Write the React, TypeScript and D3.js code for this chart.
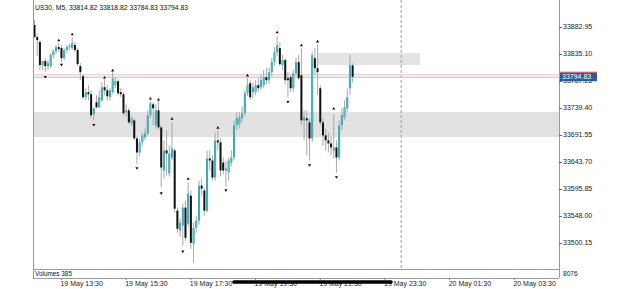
import React from 'react';
import * as d3 from 'd3';

// ---- Data (US30, M5, 5‑minute bars from 19 May 12:40) ----
const symbolTitle = 'US30, M5, 33814.82 33818.82 33784.83 33794.83';
const firstBar = '2023-05-19T12:40:00Z';
const lastTime = '2023-05-20T03:30:00Z';

const opens = [
  33886.5, 33865.2, 33856.3, 33815.4, 33822.5, 33813.6, 33813.6, 33833.2, 33840.3, 33847.4,
  33845.6, 33827.8, 33842.1, 33847.4, 33845.6, 33851.0, 33842.1, 33813.6, 33795.8, 33758.5,
  33767.4, 33763.8, 33728.2, 33749.6, 33740.7, 33753.1, 33776.2, 33770.9, 33758.5, 33767.4,
  33779.8, 33786.9, 33767.4, 33763.8, 33731.8, 33735.3, 33712.2, 33717.5, 33685.5, 33660.6,
  33678.4, 33687.3, 33694.4, 33726.4, 33746.0, 33708.7, 33735.3, 33705.1, 33628.6, 33664.2,
  33623.3, 33651.7, 33664.2, 33557.5, 33521.9, 33530.8, 33562.8, 33534.3, 33584.1, 33498.8,
  33527.2, 33539.7, 33601.9, 33593.0, 33557.5, 33650.0, 33646.4, 33616.2, 33682.0, 33678.4,
  33642.8, 33628.6, 33625.0, 33642.8, 33651.7, 33708.7, 33710.4, 33721.1, 33730.0, 33765.6,
  33783.4, 33767.4, 33767.4, 33779.8, 33776.2, 33779.8, 33794.0, 33788.7, 33802.9, 33820.7,
  33838.5, 33845.6, 33815.4, 33824.3, 33792.3, 33794.0, 33774.5, 33801.1, 33820.7, 33797.6,
  33717.5, 33721.1, 33714.0, 33685.5, 33827.8, 33810.0, 33774.5, 33714.0, 33690.9, 33682.0,
  33676.6, 33664.2, 33669.5, 33651.7, 33708.7, 33722.9, 33738.9, 33774.5, 33814.82,
];
const highs = [
  33895.4, 33870.5, 33859.8, 33824.3, 33827.8, 33824.3, 33836.7, 33843.8, 33851.0, 33854.5,
  33851.0, 33845.6, 33851.0, 33852.7, 33865.2, 33856.3, 33845.6, 33818.9, 33799.4, 33774.5,
  33779.8, 33770.9, 33740.7, 33762.0, 33770.9, 33785.1, 33790.5, 33779.8, 33774.5, 33802.9,
  33794.0, 33790.5, 33774.5, 33767.4, 33746.0, 33738.9, 33726.4, 33721.1, 33689.1, 33685.5,
  33696.2, 33703.3, 33735.3, 33751.3, 33749.6, 33746.0, 33751.3, 33708.7, 33682.0, 33699.8,
  33673.1, 33714.0, 33667.7, 33562.8, 33543.2, 33569.9, 33575.2, 33607.3, 33593.0, 33536.1,
  33548.6, 33610.8, 33614.4, 33598.4, 33664.2, 33664.2, 33655.3, 33696.2, 33699.8, 33685.5,
  33651.7, 33646.4, 33651.7, 33664.2, 33717.5, 33731.8, 33731.8, 33742.5, 33770.9, 33792.3,
  33788.7, 33785.1, 33788.7, 33792.3, 33799.4, 33806.5, 33810.0, 33810.0, 33827.8, 33847.4,
  33867.0, 33856.3, 33833.2, 33827.8, 33802.9, 33799.4, 33806.5, 33827.8, 33833.2, 33845.6,
  33735.3, 33735.3, 33721.1, 33838.5, 33845.6, 33852.7, 33779.8, 33721.1, 33703.3, 33696.2,
  33689.1, 33728.2, 33682.0, 33717.5, 33738.9, 33753.1, 33774.5, 33833.2, 33818.82,
];
const lows = [
  33863.4, 33831.4, 33806.5, 33806.5, 33802.9, 33806.5, 33810.0, 33827.8, 33834.9, 33838.5,
  33820.7, 33824.3, 33836.7, 33842.1, 33842.1, 33838.5, 33813.6, 33788.7, 33754.9, 33753.1,
  33753.1, 33721.1, 33717.5, 33738.9, 33738.9, 33749.6, 33762.0, 33753.1, 33753.1, 33763.8,
  33774.5, 33762.0, 33758.5, 33726.4, 33724.7, 33710.4, 33706.9, 33682.0, 33641.1, 33653.5,
  33673.1, 33682.0, 33690.9, 33721.1, 33708.7, 33703.3, 33699.8, 33598.4, 33614.4, 33619.7,
  33617.9, 33646.4, 33553.9, 33518.3, 33511.2, 33495.2, 33504.1, 33529.0, 33489.9, 33465.0,
  33518.3, 33532.5, 33584.1, 33548.6, 33553.9, 33628.6, 33610.8, 33610.8, 33664.2, 33617.9,
  33621.5, 33600.1, 33610.8, 33635.7, 33646.4, 33699.8, 33703.3, 33714.0, 33724.7, 33760.2,
  33753.1, 33756.7, 33762.0, 33767.4, 33770.9, 33774.5, 33781.6, 33781.6, 33795.8, 33813.6,
  33831.4, 33813.6, 33806.5, 33781.6, 33758.5, 33767.4, 33767.4, 33795.8, 33788.7, 33710.4,
  33682.0, 33655.3, 33646.4, 33678.4, 33797.6, 33762.0, 33708.7, 33673.1, 33664.2, 33660.6,
  33655.3, 33650.0, 33625.0, 33646.4, 33699.8, 33717.5, 33731.8, 33762.0, 33784.83,
];
const closes = [
  33865.2, 33859.8, 33815.4, 33822.5, 33813.6, 33818.9, 33833.2, 33840.3, 33847.4, 33843.8,
  33827.8, 33842.1, 33847.4, 33849.2, 33854.5, 33842.1, 33817.2, 33802.9, 33758.5, 33767.4,
  33763.8, 33726.4, 33738.9, 33740.7, 33758.5, 33776.2, 33770.9, 33760.2, 33770.9, 33792.3,
  33786.9, 33765.6, 33763.8, 33730.0, 33735.3, 33714.0, 33721.1, 33685.5, 33660.6, 33678.4,
  33690.9, 33694.4, 33726.4, 33747.8, 33738.9, 33735.3, 33705.1, 33633.9, 33664.2, 33658.8,
  33658.8, 33667.7, 33561.0, 33525.4, 33536.1, 33562.8, 33509.4, 33587.7, 33500.5, 33527.2,
  33539.7, 33601.9, 33596.6, 33557.5, 33650.0, 33646.4, 33616.2, 33682.0, 33678.4, 33628.6,
  33628.6, 33632.2, 33646.4, 33651.7, 33708.7, 33721.1, 33722.9, 33730.0, 33765.6, 33779.8,
  33758.5, 33776.2, 33779.8, 33774.5, 33788.7, 33794.0, 33788.7, 33802.9, 33820.7, 33838.5,
  33851.0, 33817.2, 33824.3, 33788.7, 33788.7, 33774.5, 33801.1, 33820.7, 33792.3, 33717.5,
  33722.9, 33717.5, 33685.5, 33833.2, 33810.0, 33802.9, 33714.0, 33690.9, 33682.0, 33676.6,
  33669.5, 33669.5, 33651.7, 33708.7, 33726.4, 33740.7, 33758.5, 33815.4, 33794.83,
];

// Fractal markers: bar index and marker price
const fractalUpBars = [9, 14, 26, 29, 43, 46, 51, 57, 68, 79, 90, 99, 105, 111];
const fractalUpPrices = [33859.8, 33870.5, 33794.0, 33806.5, 33756.7, 33754.9, 33721.1, 33614.4, 33705.1, 33797.6, 33874.1, 33851.0, 33858.0, 33738.9];
const fractalDownBars = [4, 10, 22, 38, 47, 55, 71, 94, 102, 112];
const fractalDownPrices = [33794.0, 33815.4, 33708.7, 33632.2, 33587.7, 33484.5, 33593.0, 33749.6, 33637.5, 33616.2];

const priceTicks = [33882.95, 33835.10, 33787.25, 33739.40, 33691.55, 33643.70, 33595.85, 33548.00, 33500.15];
const timeLabels = ['19 May 13:30', '19 May 15:30', '19 May 17:30', '19 May 19:30', '19 May 21:30', '19 May 23:30', '20 May 01:30', '20 May 03:30'];
const separatorTime = '2023-05-20T00:00:00Z';

const bidPrice = 33794.83;
const askPrice = 33797.2;
const zoneLow = [33687.8, 33732.3];
const zoneHigh = [33815.4, 33836.7];
const zoneHighTimes = ['2023-05-19T21:25:00Z', '2023-05-20T00:35:00Z'];
const volumeLabel = 'Volumes 385';
const volumeAxisLabel = '8076';

export default function App() {
  const W = 625, H = 289;
  const left = 33, right = 559, top = 0, plotBottom = 269, volBottom = 278;
  const t0 = new Date(firstBar);
  const x = d3.scaleUtc().domain([t0, new Date(lastTime)]).range([34.5, 514.4]);
  const y = d3.scaleLinear().domain([33500.15, 33882.95]).range([243, 27]);
  const barTime = (i: number) => d3.utcMinute.offset(t0, i * 5);
  const parseLabel = d3.utcParse('%Y %d %b %H:%M');

  const bars = closes.map((c, i) => ({ o: opens[i], h: highs[i], l: lows[i], c, t: barTime(i) }));
  const font = "'Liberation Sans', Arial, Helvetica, sans-serif";
  const sepX = x(new Date(separatorTime));

  return (
    <svg width={W} height={H} style={{ position: 'fixed', left: 0, top: 0, background: '#fff' }} fontFamily={font}>
      <defs>
        <clipPath id="plot"><rect x={left} y={top} width={right - left} height={plotBottom - top} /></clipPath>
        <linearGradient id="bull" x1="0" x2="1" y1="0" y2="0">
          <stop offset="0" stopColor="#1f8e9e" />
          <stop offset="0.5" stopColor="#55c6d4" />
          <stop offset="1" stopColor="#1f8e9e" />
        </linearGradient>
      </defs>
      <rect x={0} y={0} width={W} height={H} fill="#fff" />
      <g clipPath="url(#plot)">
        <rect x={left} width={right - left} y={y(zoneLow[1])} height={y(zoneLow[0]) - y(zoneLow[1])} fill="#e2e2e2" />
        <rect x={x(new Date(zoneHighTimes[0]))} width={x(new Date(zoneHighTimes[1])) - x(new Date(zoneHighTimes[0]))}
          y={y(zoneHigh[1])} height={y(zoneHigh[0]) - y(zoneHigh[1])} fill="#e4e4e4" />
        <line x1={sepX} x2={sepX} y1={top} y2={plotBottom} stroke="#a0a0a0" strokeDasharray="3,2" />
        <line x1={left} x2={right} y1={y(askPrice) - 0.5} y2={y(askPrice) - 0.5} stroke="#f3b9b9" />
        <line x1={left} x2={right} y1={y(bidPrice) + 0.5} y2={y(bidPrice) + 0.5} stroke="#a9c3e2" />
        {bars.map((b, i) => {
          const cx = x(b.t);
          const bull = b.c >= b.o;
          const y1 = y(Math.max(b.o, b.c));
          const y2 = y(Math.min(b.o, b.c));
          return (
            <g key={i}>
              <line x1={cx} x2={cx} y1={y(b.h)} y2={y(b.l)} stroke="#a9a9a9" strokeWidth={1} />
              <rect x={cx - 1} width={2} y={y1} height={Math.max(1, y2 - y1)} fill={bull ? 'url(#bull)' : '#111'} />
            </g>
          );
        })}
        {fractalUpBars.map((bi, k) => {
          const cx = x(barTime(bi));
          const cy = y(fractalUpPrices[k]);
          return <path key={'u' + k} d={`M${cx - 1.6},${cy + 1.3}L${cx + 1.6},${cy + 1.3}L${cx},${cy - 1.3}Z`} fill="#111" />;
        })}
        {fractalDownBars.map((bi, k) => {
          const cx = x(barTime(bi));
          const cy = y(fractalDownPrices[k]);
          return <path key={'d' + k} d={`M${cx - 1.6},${cy - 1.3}L${cx + 1.6},${cy - 1.3}L${cx},${cy + 1.3}Z`} fill="#111" />;
        })}
      </g>
      {/* frame */}
      <line x1={left + 0.5} x2={left + 0.5} y1={top} y2={volBottom} stroke="#9a9a9a" />
      <line x1={right + 0.5} x2={right + 0.5} y1={top} y2={volBottom} stroke="#9a9a9a" />
      <line x1={left} x2={right} y1={plotBottom + 0.5} y2={plotBottom + 0.5} stroke="#9a9a9a" />
      <line x1={left} x2={right} y1={volBottom + 0.5} y2={volBottom + 0.5} stroke="#9a9a9a" />

      <text x={35} y={10} fontSize={6.8} fill="#111">{symbolTitle}</text>
      <text x={35} y={276} fontSize={6.4} fill="#111">{volumeLabel}</text>
      <text x={563} y={276} fontSize={6.6} fill="#222">{volumeAxisLabel}</text>

      {priceTicks.map((p) => (
        <g key={p}>
          <line x1={right} x2={right + 3} y1={Math.round(y(p)) + 0.5} y2={Math.round(y(p)) + 0.5} stroke="#666" />
          <text x={563} y={y(p)} dy="0.35em" fontSize={7} fill="#222">{p.toFixed(2)}</text>
        </g>
      ))}
      {/* current price label */}
      <rect x={560} y={y(bidPrice) - 5} width={37} height={1} fill="#e04848" />
      <rect x={560} y={y(bidPrice) - 4} width={37} height={8.5} fill="#2d5a9a" />
      <text x={562} y={y(bidPrice)} dy="0.35em" fontSize={7} fill="#fff">{bidPrice.toFixed(2)}</text>

      {timeLabels.map((lab) => {
        const t = parseLabel('2023 ' + lab) as Date;
        const tx = x(t);
        return (
          <g key={lab}>
            <line x1={tx} x2={tx} y1={volBottom} y2={volBottom + 2} stroke="#888" />
            <text x={tx - 1} y={286} fontSize={7} fill="#222">{lab}</text>
          </g>
        );
      })}
      <line x1={234} x2={391} y1={282} y2={282} stroke="#000" strokeWidth={3.6} strokeLinecap="round" />
    </svg>
  );
}
